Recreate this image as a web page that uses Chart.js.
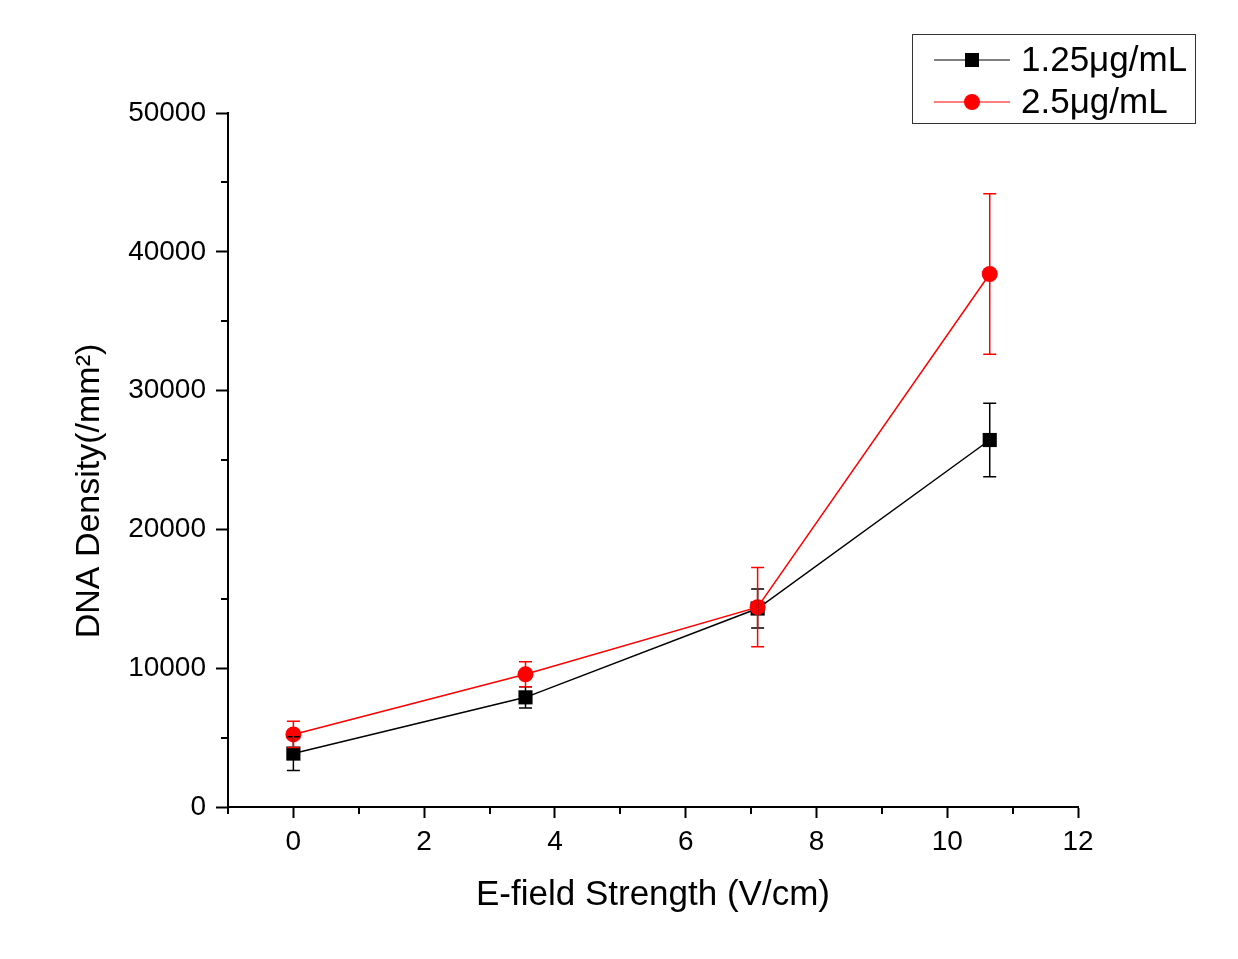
<!DOCTYPE html>
<html>
<head>
<meta charset="utf-8">
<script src="https://cdn.jsdelivr.net/npm/chart.js@4/dist/chart.umd.min.js"></script>
<style>
  html, body { margin: 0; padding: 0; background: #fff; }
  #wrap { width: 1238px; height: 959px; }
</style>
</head>
<body>
<div id="wrap"><canvas id="c" width="1238" height="959"></canvas></div>
<script>
// ---- data ----
const xValues = [0, 3.55, 7.1, 10.65];
const seriesLabels = ["1.25μg/mL", "2.5μg/mL"];
const lowValues = [3850, 7900, 14300, 26440];
const lowErrors = [1220, 760, 1400, 2650];
const highValues = [5230, 9560, 14400, 38400];
const highErrors = [940, 900, 2850, 5780];
const xTickLabels = [0, 2, 4, 6, 8, 10, 12];
const yTickLabels = [0, 10000, 20000, 30000, 40000, 50000];
const xMinorTicks = [-1, 1, 3, 5, 7, 9, 11];
const yMinorTicks = [5000, 15000, 25000, 35000, 45000];
const xTitle = "E-field Strength (V/cm)";
const yTitle = "DNA Density(/mm²)";

const FONT = "'Liberation Sans', Arial, sans-serif";

function pts(xs, ys) { return xs.map((x, i) => ({ x: x, y: ys[i] })); }

const errorBarPlugin = {
  id: 'errorBars',
  afterDatasetsDraw(chart) {
    const ctx = chart.ctx;
    const xs = chart.scales.x, ys = chart.scales.y;
    chart.data.datasets.forEach((ds) => {
      ctx.save();
      ctx.strokeStyle = ds.borderColor;
      ctx.lineWidth = 1.5;
      ds.data.forEach((p, i) => {
        const e = ds.errors[i];
        const px = xs.getPixelForValue(p.x);
        const top = ys.getPixelForValue(p.y + e);
        const bot = ys.getPixelForValue(p.y - e);
        ctx.beginPath();
        ctx.moveTo(px, top); ctx.lineTo(px, bot);
        ctx.moveTo(px - 6.5, top); ctx.lineTo(px + 6.5, top);
        ctx.moveTo(px - 6.5, bot); ctx.lineTo(px + 6.5, bot);
        ctx.stroke();
      });
      ctx.restore();
    });
  }
};

const decorPlugin = {
  id: 'decor',
  afterDraw(chart) {
    const ctx = chart.ctx;
    const xs = chart.scales.x, ys = chart.scales.y;
    const area = chart.chartArea;
    ctx.save();
    // minor ticks
    ctx.strokeStyle = '#000';
    ctx.lineWidth = 2;
    ctx.beginPath();
    xMinorTicks.forEach(v => {
      const px = Math.round(xs.getPixelForValue(v));
      ctx.moveTo(px, area.bottom); ctx.lineTo(px, area.bottom + 7);
    });
    yMinorTicks.forEach(v => {
      const py = Math.round(ys.getPixelForValue(v));
      ctx.moveTo(area.left, py); ctx.lineTo(area.left - 7, py);
    });
    ctx.stroke();

    // axis titles
    ctx.fillStyle = '#000';
    ctx.textAlign = 'center';
    ctx.textBaseline = 'middle';
    ctx.font = "35px " + FONT;
    ctx.fillText(xTitle, (area.left + area.right) / 2, 895);
    ctx.save();
    ctx.translate(90, 491);
    ctx.rotate(-Math.PI / 2);
    ctx.font = "34px " + FONT;
    ctx.fillText(yTitle, 0, 0);
    ctx.restore();

    // legend
    const bx = 912, by = 34, bw = 283, bh = 89;
    ctx.fillStyle = '#fff';
    ctx.fillRect(bx, by, bw, bh);
    ctx.strokeStyle = '#333';
    ctx.lineWidth = 1;
    ctx.strokeRect(bx + 0.5, by + 0.5, bw, bh);
    const rows = [60, 102];
    chart.data.datasets.forEach((ds, i) => {
      const y = rows[i];
      ctx.strokeStyle = ds.borderColor;
      ctx.lineWidth = 1.2;
      ctx.beginPath();
      ctx.moveTo(934, y); ctx.lineTo(1010, y);
      ctx.stroke();
      ctx.fillStyle = ds.backgroundColor;
      if (ds.pointStyle === 'rect') {
        ctx.fillRect(972 - 7, y - 7, 14, 14);
      } else {
        ctx.beginPath();
        ctx.arc(972, y, 8, 0, Math.PI * 2);
        ctx.fill();
      }
      ctx.fillStyle = '#000';
      ctx.font = "35px " + FONT;
      ctx.textAlign = 'left';
      ctx.textBaseline = 'middle';
      ctx.fillText(ds.label, 1021, y + 1);
    });
    ctx.restore();
  }
};

new Chart(document.getElementById('c'), {
  type: 'line',
  data: {
    datasets: [
      {
        label: seriesLabels[0],
        data: pts(xValues, lowValues),
        errors: lowErrors,
        borderColor: '#000',
        backgroundColor: '#000',
        borderWidth: 1.5,
        pointStyle: 'rect',
        pointRadius: 10,
        pointBorderWidth: 0,
        order: 2
      },
      {
        label: seriesLabels[1],
        data: pts(xValues, highValues),
        errors: highErrors,
        borderColor: '#ff0000',
        backgroundColor: '#ff0000',
        borderWidth: 1.5,
        pointStyle: 'circle',
        pointRadius: 8,
        pointBorderWidth: 0,
        order: 1
      }
    ]
  },
  options: {
    responsive: false,
    animation: false,
    devicePixelRatio: 1,
    layout: { padding: { left: 0, right: 160, top: 113, bottom: 0 } },
    plugins: { legend: { display: false }, tooltip: { enabled: false } },
    scales: {
      x: {
        type: 'linear',
        min: -1, max: 12,
        afterFit(s) { s.height = 152; },
        afterBuildTicks(s) { s.ticks = xTickLabels.map(v => ({ value: v })); },
        grid: { drawOnChartArea: false, drawTicks: true, tickLength: 11, tickWidth: 2, tickColor: '#000' },
        border: { display: true, color: '#000', width: 2 },
        ticks: { color: '#000', font: { family: FONT, size: 28 }, padding: 7, maxRotation: 0 }
      },
      y: {
        type: 'linear',
        min: 0, max: 50000,
        afterFit(s) { s.width = 228; },
        afterBuildTicks(s) { s.ticks = yTickLabels.map(v => ({ value: v })); },
        grid: { drawOnChartArea: false, drawTicks: true, tickLength: 12, tickWidth: 2, tickColor: '#000' },
        border: { display: true, color: '#000', width: 2 },
        ticks: { color: '#000', font: { family: FONT, size: 28 }, padding: 10, callback: v => String(v) }
      }
    }
  },
  plugins: [errorBarPlugin, decorPlugin]
});
</script>
</body>
</html>
